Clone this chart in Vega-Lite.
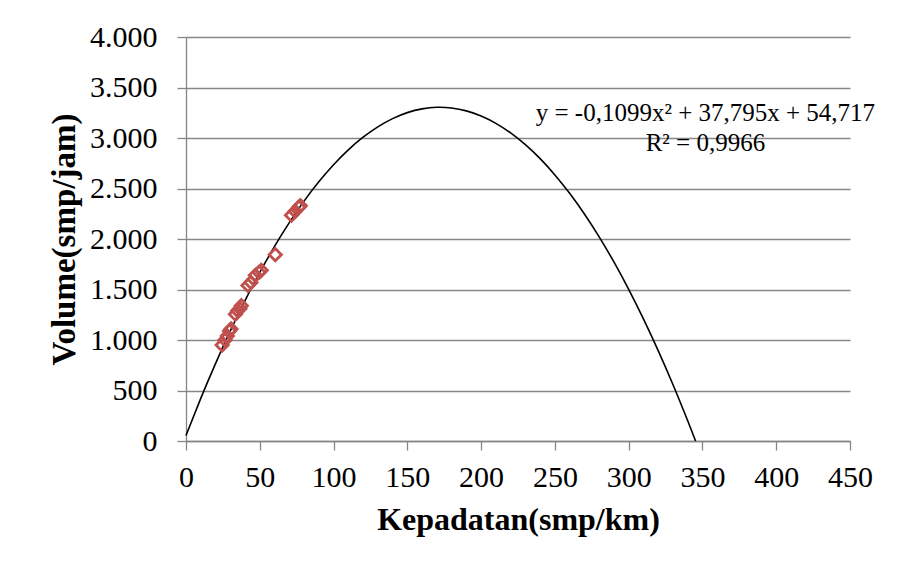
{
  "$schema": "https://vega.github.io/schema/vega-lite/v6.json",
  "width": 664,
  "height": 404,
  "autosize": {"type": "none"},
  "padding": {"left": 186, "top": 37, "right": 50, "bottom": 131},
  "background": "white",
  "config": {
    "font": "Liberation Serif",
    "view": {"stroke": null},
    "axis": {
      "labelFont": "Liberation Serif",
      "titleFont": "Liberation Serif",
      "labelColor": "black",
      "titleColor": "black",
      "labelFontSize": 30,
      "titleFontSize": 32,
      "titleFontWeight": "bold",
      "domainColor": "#868686",
      "tickColor": "#868686",
      "gridColor": "#868686",
      "domainWidth": 1.3,
      "tickWidth": 1.3,
      "gridWidth": 1.3,
      "tickSize": 9,
      "labelFlush": false,
      "labelOverlap": false
    }
  },
  "datasets": {
    "obs": [
      {"k": 24.5, "v": 950},
      {"k": 26.5, "v": 1000},
      {"k": 28, "v": 1040},
      {"k": 29.5, "v": 1090},
      {"k": 30.5, "v": 1110},
      {"k": 33.5, "v": 1255},
      {"k": 35, "v": 1290},
      {"k": 36.5, "v": 1310},
      {"k": 37.5, "v": 1340},
      {"k": 42, "v": 1540},
      {"k": 44, "v": 1570},
      {"k": 47, "v": 1640},
      {"k": 49.5, "v": 1670},
      {"k": 51, "v": 1690},
      {"k": 60.5, "v": 1845},
      {"k": 71.5, "v": 2235},
      {"k": 74, "v": 2275},
      {"k": 76.5, "v": 2315},
      {"k": 77.5, "v": 2330}
    ],
    "trend": [
      {"k": 0, "v": 54.7},
      {"k": 10, "v": 421.7},
      {"k": 20, "v": 766.7},
      {"k": 30, "v": 1089.7},
      {"k": 40, "v": 1390.7},
      {"k": 50, "v": 1669.7},
      {"k": 60, "v": 1926.8},
      {"k": 70, "v": 2161.9},
      {"k": 80, "v": 2375.0},
      {"k": 90, "v": 2566.1},
      {"k": 100, "v": 2735.2},
      {"k": 110, "v": 2882.4},
      {"k": 120, "v": 3007.6},
      {"k": 130, "v": 3110.8},
      {"k": 140, "v": 3192.0},
      {"k": 150, "v": 3251.2},
      {"k": 160, "v": 3288.5},
      {"k": 170, "v": 3303.8},
      {"k": 180, "v": 3297.1},
      {"k": 190, "v": 3268.4},
      {"k": 200, "v": 3217.7},
      {"k": 210, "v": 3145.1},
      {"k": 220, "v": 3050.5},
      {"k": 230, "v": 2933.9},
      {"k": 240, "v": 2795.3},
      {"k": 250, "v": 2634.7},
      {"k": 260, "v": 2452.2},
      {"k": 270, "v": 2247.7},
      {"k": 280, "v": 2021.2},
      {"k": 290, "v": 1772.7},
      {"k": 300, "v": 1502.2},
      {"k": 310, "v": 1209.8},
      {"k": 320, "v": 895.4},
      {"k": 330, "v": 559.0},
      {"k": 340, "v": 200.6},
      {"k": 345.35, "v": 0}
    ],
    "labels": [
      {"k": 352, "v": 3250, "t": "y = -0,1099x² + 37,795x + 54,717"},
      {"k": 352, "v": 2955, "t": "R² = 0,9966"}
    ]
  },
  "layer": [
    {
      "data": {"name": "trend"},
      "mark": {"type": "line", "color": "black", "strokeWidth": 1.6, "interpolate": "natural"},
      "encoding": {
        "x": {
          "field": "k", "type": "quantitative",
          "scale": {"domain": [0, 450], "nice": false},
          "axis": {
            "values": [0, 50, 100, 150, 200, 250, 300, 350, 400, 450],
            "grid": false,
            "labelPadding": 12,
            "title": "Kepadatan(smp/km)",
            "titlePadding": 12
          }
        },
        "y": {
          "field": "v", "type": "quantitative",
          "scale": {"domain": [0, 4000], "nice": false},
          "axis": {
            "values": [0, 500, 1000, 1500, 2000, 2500, 3000, 3500, 4000],
            "grid": true,
            "labelPadding": 20,
            "labelExpr": "replace(format(datum.value, ','), ',', '.')",
            "title": "Volume(smp/jam)",
            "titleFontSize": 33,
            "titlePadding": 8
          }
        }
      }
    },
    {
      "data": {"name": "obs"},
      "mark": {"type": "point", "shape": "diamond", "filled": false, "stroke": "#C0504D", "strokeWidth": 2.8, "size": 150, "opacity": 1},
      "encoding": {
        "x": {"field": "k", "type": "quantitative"},
        "y": {"field": "v", "type": "quantitative"}
      }
    },
    {
      "data": {"name": "labels"},
      "mark": {"type": "text", "font": "Liberation Serif", "fontSize": 25, "color": "black", "align": "center", "baseline": "middle"},
      "encoding": {
        "x": {"field": "k", "type": "quantitative"},
        "y": {"field": "v", "type": "quantitative"},
        "text": {"field": "t"}
      }
    }
  ]
}
